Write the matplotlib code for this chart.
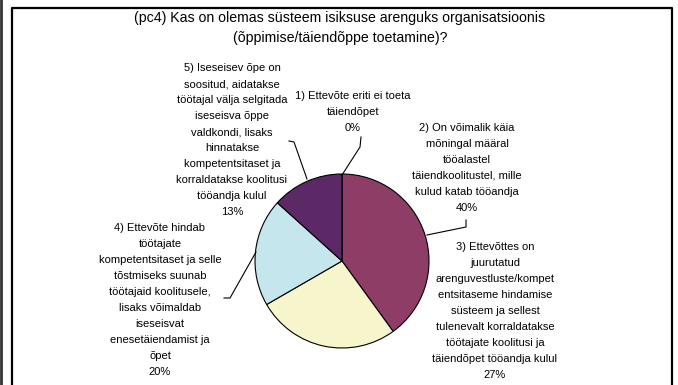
import matplotlib
matplotlib.use("Agg")
import matplotlib.pyplot as plt

plt.rcParams["font.family"] = ["Liberation Sans", "DejaVu Sans"]

# vastuste arv (n = 15) -> 0%, 40%, 27%, 20%, 13%
labels = [
    "1) Ettevõte eriti ei toeta\ntäiendõpet",
    "2) On võimalik käia\nmõningal määral\ntööalastel\ntäiendkoolitustel, mille\nkulud katab tööandja",
    "3) Ettevõttes on\njuurutatud\narenguvestluste/kompet\nentsitaseme hindamise\nsüsteem ja sellest\n"
    "tulenevalt korraldatakse\ntöötajate koolitusi ja\ntäiendõpet tööandja kulul",
    "4) Ettevõte hindab\ntöötajate\nkompetentsitaset ja selle\ntõstmiseks suunab\ntöötajaid koolitusele,\n"
    "lisaks võimaldab\niseseisvat\nenesetäiendamist ja\nõpet",
    "5) Iseseisev õpe on\nsoositud, aidatakse\ntöötajal välja selgitada\niseseisva õppe\nvaldkondi, lisaks\n"
    "hinnatakse\nkompetentsitaset ja\nkorraldatakse koolitusi\ntööandja kulul",
]
counts = [0, 6, 4, 3, 2]
colors = ["#9b9bd0", "#8e3d67", "#f7f5cc", "#c5e6ec", "#5c2866"]

W, H = 678, 385


def Y(py):
    return H - py


fig = plt.figure(figsize=(6.78, 3.85), dpi=100)
ax = fig.add_axes([0, 0, 1, 1])

ax.pie(counts, colors=colors, startangle=90, counterclock=False,
       center=(342, Y(261)), radius=87,
       wedgeprops=dict(edgecolor="black", linewidth=0.8))

ax.set_xlim(0, W)
ax.set_ylim(0, H)
ax.set_aspect("auto")
ax.axis("off")

# raam
ax.plot([1, 1], [0, H], color="#333333", lw=2)
ax.plot([11.5, 11.5, 672, 672], [0, Y(8), Y(8), 0], color="black", lw=1.6)

ax.text(340, Y(18), "(pc4) Kas on olemas süsteem isiksuse arenguks organisatsioonis",
        ha="center", va="center", fontsize=10.2)
ax.text(340, Y(38), "(õppimise/täiendõppe toetamine)?", ha="center", va="center", fontsize=10.2)

# sildid
total = sum(counts)
label_pos = [(353, 112), (467, 168), (495, 311), (160, 300), (232, 140)]
for lab, c, (lx, ly) in zip(labels, counts, label_pos):
    ax.text(lx, Y(ly), f"{lab}\n{round(100 * c / total)}%", ha="center", va="center",
            fontsize=8.0, linespacing=1.74, color="black")

# juhtjooned
leaders = [
    [(361, 137), (360, 147), (342, 175)],
    [(466, 220), (466, 227), (427, 235)],
    [(224, 298), (230, 298), (256, 252)],
    [(289, 141), (294, 142), (307, 179)],
]
for pts in leaders:
    ax.plot([p[0] for p in pts], [Y(p[1]) for p in pts], color="black", lw=0.8)

fig.savefig("out.png", dpi=100, facecolor="white")
